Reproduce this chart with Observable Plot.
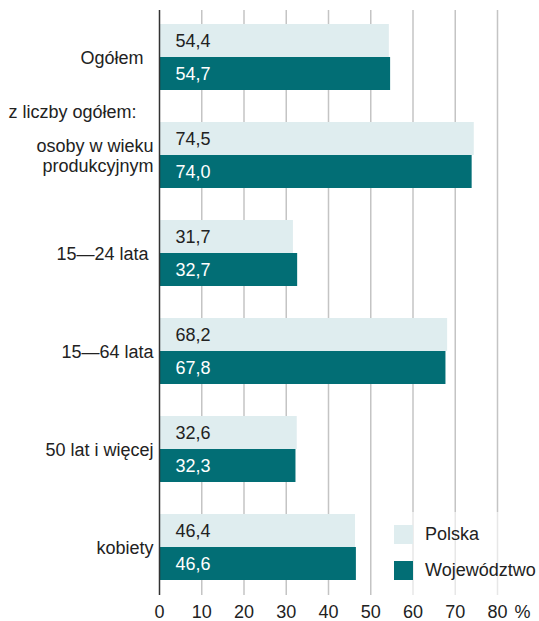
<!DOCTYPE html>
<html>
<head>
<meta charset="utf-8">
<script src="https://cdn.jsdelivr.net/npm/d3@7"></script>
<script src="https://cdn.jsdelivr.net/npm/@observablehq/plot@0.6"></script>
<style>
  body { margin: 0; background: #fff; font-family: "Liberation Sans", Arial, sans-serif; }
  #wrap { position: relative; width: 539px; height: 621px; }
  #legend { position: absolute; left: 386px; top: 512px; width: 153px; height: 83px; background: rgba(255,255,255,0.6); }
  .li { position: absolute; left: 8px; display: flex; align-items: center; font-size: 18px; color: #222; white-space: nowrap; }
  .sw { width: 19px; height: 19px; margin-right: 12px; }
</style>
</head>
<body>
<div id="wrap"></div>
<script>
const categories = ["Ogółem", "osoby w wieku\nprodukcyjnym", "15—24 lata", "15—64 lata", "50 lat i więcej", "kobiety"];
const categoryLabels = ["Ogółem\u00a0\u00a0", "osoby w wieku\nprodukcyjnym", "15—24 lata\u00a0", "15—64 lata", "50 lat i więcej", "kobiety"];
const seriesNames = ["Polska", "Województwo"];
const polska = [54.4, 74.5, 31.7, 68.2, 32.6, 46.4];
const wojewodztwo = [54.7, 74.0, 32.7, 67.8, 32.3, 46.6];
const xTicks = [0, 10, 20, 30, 40, 50, 60, 70, 80];
const unitLabel = ["%"];
const note = ["z liczby ogółem:"];
const colors = ["#dfedef", "#026e75"];
const textColors = ["#222", "#fff"];

const rowsP = categories.map((c, i) => ({category: c, value: polska[i]}));
const rowsW = categories.map((c, i) => ({category: c, value: wojewodztwo[i]}));
const fmt = v => d3.format(".1f")(v).replace(".", ",");
const half = 33;

const chart = Plot.plot({
  width: 539,
  height: 621,
  marginLeft: 159,
  marginRight: 42,
  marginTop: 10,
  marginBottom: 26,
  style: {fontFamily: "'Liberation Sans', Arial, sans-serif", fontSize: "18px", color: "#222", background: "#fff", overflow: "visible"},
  x: {domain: [0, 80], label: null},
  y: {domain: categories, paddingInner: 0.33, paddingOuter: 0.1345, align: 0.47, label: null},
  marks: [
    Plot.ruleX(xTicks.filter(d => d > 0), {stroke: "#c4c4c4", strokeWidth: 1.5}),
    Plot.barX(rowsP, {x: "value", y: "category", fill: colors[0], insetBottom: half}),
    Plot.barX(rowsW, {x: "value", y: "category", fill: colors[1], insetTop: half}),
    Plot.ruleX([0], {stroke: "#333", strokeWidth: 1.5}),
    Plot.text(rowsP, {x: d => 0, y: "category", text: d => fmt(d.value), dx: 16, dy: -16.5, textAnchor: "start", fill: textColors[0], fontSize: 18}),
    Plot.text(rowsW, {x: d => 0, y: "category", text: d => fmt(d.value), dx: 16, dy: 16.5, textAnchor: "start", fill: textColors[1], fontSize: 18}),
    Plot.axisX({ticks: xTicks, tickSize: 0, tickPadding: 10, label: null, fontSize: 18, fill: "#222"}),
    Plot.axisY({tickSize: 0, tickPadding: 6, label: null, fontSize: 18, lineHeight: 1.12, fill: "#222",
      tickFormat: d => categoryLabels[categories.indexOf(d)]}),
    Plot.text(unitLabel, {x: d => 80, frameAnchor: "bottom", dx: 25, dy: 10, lineAnchor: "top", text: d => d, fontSize: 18, fill: "#222"}),
    Plot.text(note, {y: d => categories[1], frameAnchor: "left", dx: -151, dy: -43, textAnchor: "start", text: d => d, fontSize: 18, fill: "#222"})
  ]
});
document.getElementById("wrap").appendChild(chart);

const legend = document.createElement("div");
legend.id = "legend";
seriesNames.forEach((name, i) => {
  const item = document.createElement("div");
  item.className = "li";
  item.style.top = (12 + i * 36) + "px";
  const sw = document.createElement("div");
  sw.className = "sw";
  sw.style.background = colors[i];
  const t = document.createElement("span");
  t.textContent = name;
  item.appendChild(sw);
  item.appendChild(t);
  legend.appendChild(item);
});
document.getElementById("wrap").appendChild(legend);
</script>
</body>
</html>
